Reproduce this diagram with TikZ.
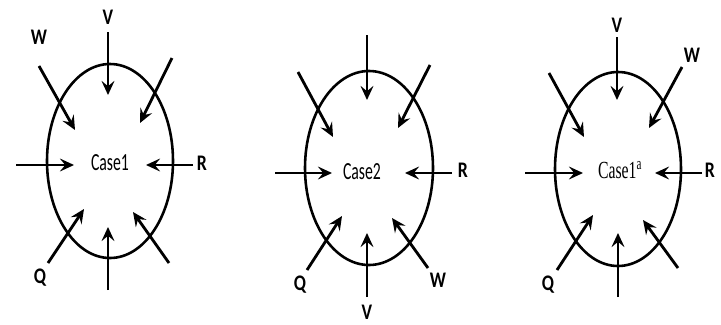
\documentclass[tikz,border=0pt]{standalone}
\usepackage{fontspec}
\usepackage{graphicx}
\setmainfont{Carlito}
\newfontfamily\casefont{Liberation Serif}
\usepackage{tikz}
\usetikzlibrary{arrows.meta,shapes.geometric}
\newcommand{\narrowtxt}[1]{\scalebox{0.8}[1]{#1}}
\newcommand{\casename}[1]{\scalebox{0.64}[1]{#1}}

\begin{document}
\begin{tikzpicture}[x=0.03cm, y=-0.03cm,
  cell/.style={draw, ellipse, line width=2.2pt, inner sep=0pt,
               minimum width=#1*0.03cm, minimum height=5.82cm},
  cell/.default=126,
  arr/.style={-{Stealth[length=12pt, width=11pt, inset=4.5pt]}, line width=2.4pt},
  lbl/.style={font=\fontsize{19}{21}\bfseries, inner sep=1pt},
  casetxt/.style={font=\fontsize{21}{24}\selectfont, inner sep=1pt}]
  \useasboundingbox (0,0) rectangle (721,324);
  % case 1
  \node[cell]      (cellone) at (110,161) {};
  \node[casetxt]   (caseone) at (110,163) {\casename{Case1}};
  \node[lbl] (vone) at (108,17)  {\narrowtxt{V}};
  \node[lbl] (wone) at (39,37)   {\narrowtxt{W}};
  \node[lbl] (rone) at (202,163) {\narrowtxt{R}};
  \node[lbl] (qone) at (40,278)  {\narrowtxt{Q}};
  \coordinate (a1n)  at (108,32);  \coordinate (h1n)  at (108,95);
  \coordinate (a1nw) at (39,66);   \coordinate (h1nw) at (75,130);
  \coordinate (a1ne) at (172,58);  \coordinate (h1ne) at (140,123);
  \coordinate (a1w)  at (16,165);  \coordinate (h1w)  at (74,165);
  \coordinate (a1e)  at (193,165); \coordinate (h1e)  at (146,165);
  \coordinate (a1sw) at (48,263);  \coordinate (h1sw) at (84,209);
  \coordinate (a1s)  at (108,290); \coordinate (h1s)  at (108,227);
  \coordinate (a1se) at (169,263); \coordinate (h1se) at (133,212);
  \draw[arr] (a1n) -- (h1n);
  \draw[arr] (a1nw) -- (h1nw);
  \draw[arr] (a1ne) -- (h1ne);
  \draw[arr] (a1w) -- (h1w);
  \draw[arr] (a1e) -- (h1e);
  \draw[arr] (a1sw) -- (h1sw);
  \draw[arr] (a1s) -- (h1s);
  \draw[arr] (a1se) -- (h1se);
  % case 2
  \node[cell=128]  (celltwo) at (369,168) {};
  \node[casetxt]   (casetwo) at (362,172) {\casename{Case2}};
  \node[lbl] (rtwo) at (463,170) {\narrowtxt{R}};
  \node[lbl] (qtwo) at (300,285) {\narrowtxt{Q}};
  \node[lbl] (vtwo) at (367,312) {\narrowtxt{V}};
  \node[lbl] (wtwo) at (438,280) {\narrowtxt{W}};
  \coordinate (a2n)  at (367,35);  \coordinate (h2n)  at (367,100);
  \coordinate (a2nw) at (298,72);  \coordinate (h2nw) at (333,137);
  \coordinate (a2ne) at (430,65);  \coordinate (h2ne) at (398,128);
  \coordinate (a2w)  at (275,173); \coordinate (h2w)  at (332,173);
  \coordinate (a2e)  at (452,173); \coordinate (h2e)  at (405,173);
  \coordinate (a2sw) at (307,270); \coordinate (h2sw) at (342,216);
  \coordinate (a2s)  at (367,297); \coordinate (h2s)  at (367,233);
  \coordinate (a2se) at (428,268); \coordinate (h2se) at (392,218);
  \draw[arr] (a2n) -- (h2n);
  \draw[arr] (a2nw) -- (h2nw);
  \draw[arr] (a2ne) -- (h2ne);
  \draw[arr] (a2w) -- (h2w);
  \draw[arr] (a2e) -- (h2e);
  \draw[arr] (a2sw) -- (h2sw);
  \draw[arr] (a2s) -- (h2s);
  \draw[arr] (a2se) -- (h2se);
  % case 1a
  \node[cell]      (cellonea) at (618,169) {};
  \node[casetxt]   (caseonea) at (620,170) {\casefont\casename{Case1\textsuperscript{a}}};
  \node[lbl] (vonea) at (617,25)  {\narrowtxt{V}};
  \node[lbl] (wonea) at (692,55)  {\narrowtxt{W}};
  \node[lbl] (ronea) at (710,170) {\narrowtxt{R}};
  \node[lbl] (qonea) at (548,285) {\narrowtxt{Q}};
  \coordinate (a3n)  at (617,37);  \coordinate (h3n)  at (617,100);
  \coordinate (a3nw) at (549,73);  \coordinate (h3nw) at (584,137);
  \coordinate (a3ne) at (682,67);  \coordinate (h3ne) at (649,128);
  \coordinate (a3w)  at (525,173); \coordinate (h3w)  at (583,173);
  \coordinate (a3e)  at (702,173); \coordinate (h3e)  at (655,173);
  \coordinate (a3sw) at (557,270); \coordinate (h3sw) at (593,215);
  \coordinate (a3s)  at (618,297); \coordinate (h3s)  at (618,233);
  \coordinate (a3se) at (678,268); \coordinate (h3se) at (643,220);
  \draw[arr] (a3n) -- (h3n);
  \draw[arr] (a3nw) -- (h3nw);
  \draw[arr] (a3ne) -- (h3ne);
  \draw[arr] (a3w) -- (h3w);
  \draw[arr] (a3e) -- (h3e);
  \draw[arr] (a3sw) -- (h3sw);
  \draw[arr] (a3s) -- (h3s);
  \draw[arr] (a3se) -- (h3se);
\end{tikzpicture}
\end{document}
